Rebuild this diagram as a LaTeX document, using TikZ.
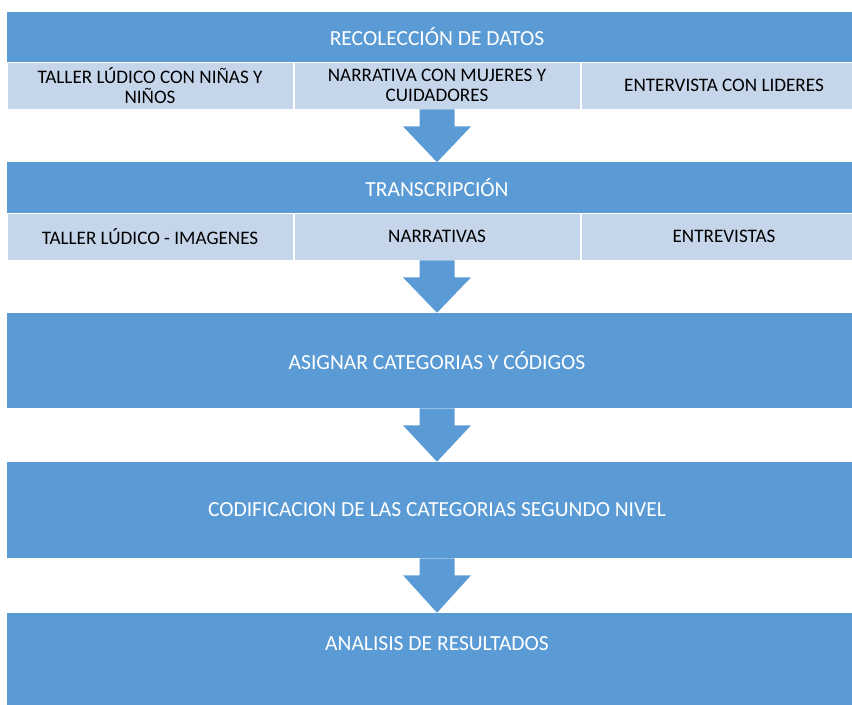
\documentclass[tikz,border=0pt]{standalone}
\usepackage{fontspec}
\setmainfont{Carlito}
\usetikzlibrary{calc}
\definecolor{barblue}{HTML}{5B9BD5}
\definecolor{cellblue}{HTML}{C5D5EA}
\tikzset{
  head/.style={fill=barblue, text=white, minimum width=21.5cm, minimum height=1.25cm, inner sep=0pt,
    font=\fontsize{15.3}{17}\selectfont},
  cell/.style={fill=cellblue, draw=white, line width=0.6pt, minimum width=7.15cm, minimum height=1.175cm,
    inner sep=0pt, align=center, font=\fontsize{13.6}{14.4}\selectfont},
  bigbox/.style={head, minimum height=2.375cm},
  flow/.style={fill=barblue}
}
% block arrow from the bottom of #1 to the top of #2
\newcommand{\fatarrow}[2]{%
  \fill[flow] ($(#1.south)+(-17.5,0)$) -- ($(#1.south)+(-17.5,17)$)
    -- ($(#1.south)+(-34,17)$) -- (#2.north)
    -- ($(#1.south)+(34,17)$) -- ($(#1.south)+(17.5,17)$)
    -- ($(#1.south)+(17.5,0)$) -- cycle;}
\begin{document}
\begin{tikzpicture}[x=0.025cm, y=-0.025cm]
  \useasboundingbox (0,0) rectangle (852,704);

  % first stage
  \node[head] (rec) at (437,37) {RECOLECCIÓN DE DATOS};
  \node[cell] (tal) at (150,85.5) {TALLER LÚDICO CON NIÑAS Y\\NIÑOS};
  \node[cell] (nar) at (437,85.5) {NARRATIVA CON MUJERES Y\\CUIDADORES};
  \node[cell] (ent) at (724,85.5) {ENTERVISTA CON LIDERES};

  % second stage
  \node[head] (tra) at (437,187.5) {TRANSCRIPCIÓN};
  \node[cell] (img) at (150,236.5) {TALLER LÚDICO - IMAGENES};
  \node[cell] (nrs) at (437,236.5) {NARRATIVAS};
  \node[cell] (ens) at (724,236.5) {ENTREVISTAS};

  % remaining stages
  \node[bigbox] (asi) at (437,360.5) {ASIGNAR CATEGORIAS Y CÓDIGOS};
  \node[bigbox, minimum height=2.4cm] (cod) at (437,510) {CODIFICACION DE LAS CATEGORIAS SEGUNDO NIVEL};
  \node[bigbox] (ana) at (437,660.5) {};
  \node[text=white, font=\fontsize{15.3}{17}\selectfont] (anatxt) at (437,644) {ANALISIS DE RESULTADOS};

  % arrows between stages
  \fatarrow{nar}{tra}
  \fatarrow{nrs}{asi}
  \fatarrow{asi}{cod}
  \fatarrow{cod}{ana}
\end{tikzpicture}
\end{document}
